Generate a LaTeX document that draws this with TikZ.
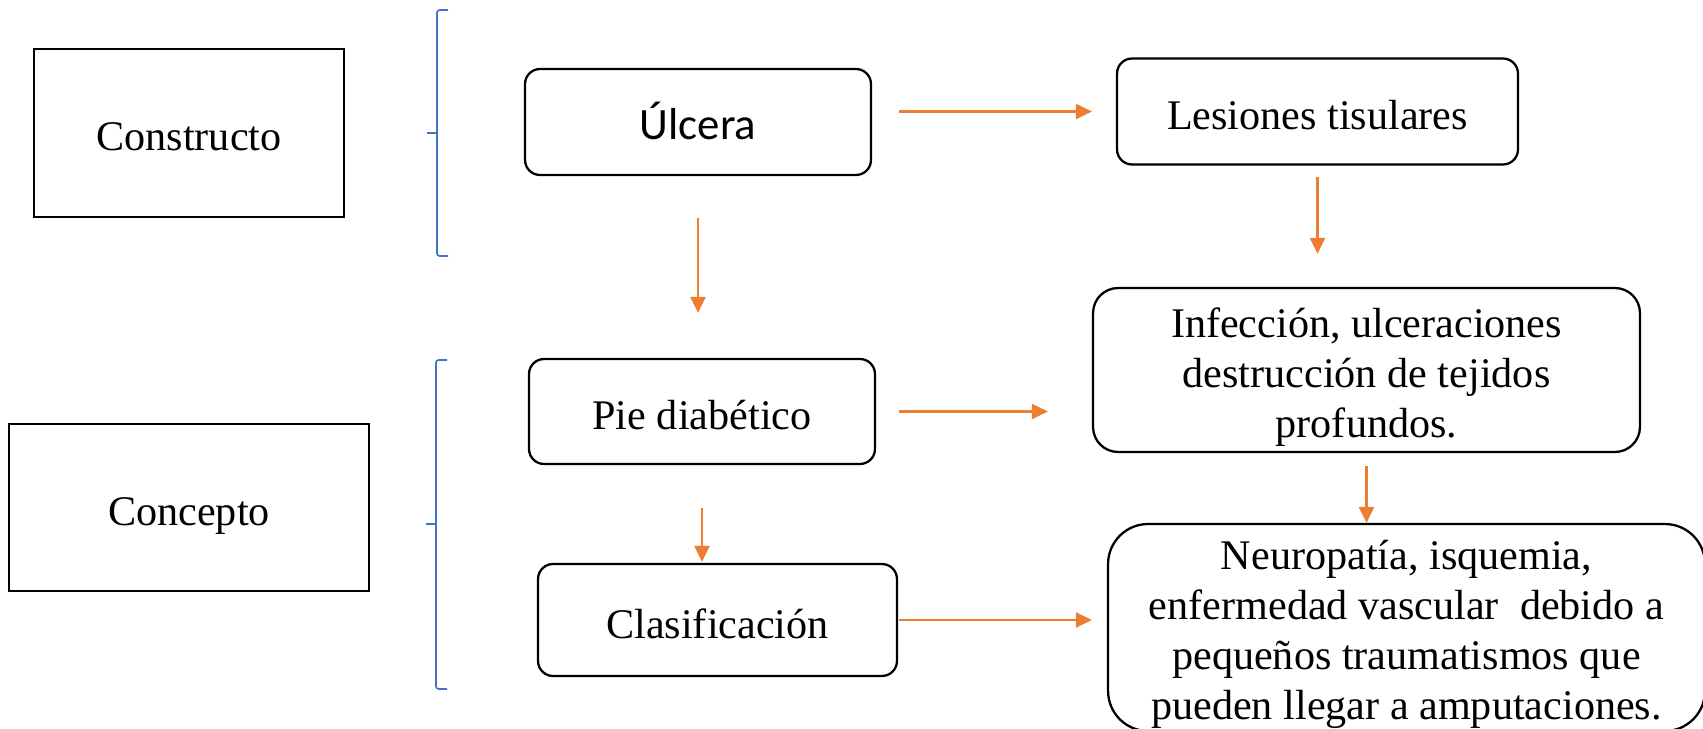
\documentclass[tikz,border=0pt]{standalone}
\usepackage{fontspec}
\setmainfont{Liberation Serif}
\newfontfamily\calibri{Carlito}
\usetikzlibrary{arrows.meta}
\definecolor{naranja}{HTML}{ED7D31}
\definecolor{azul}{HTML}{4472C4}
\def\llave(#1,#2,#3,#4){\draw[llave] ([xshift=0.22cm]#1,#2) -- (#1,#2) -- (#1,#4) -- ([xshift=0.22cm]#1,#4); \draw[llave] (#1,#3) -- ([xshift=-0.2cm]#1,#3);}

\begin{document}
\begin{tikzpicture}[x=0.02cm, y=-0.02cm,
	every node/.style={font=\fontsize{24}{28.45}\selectfont},
	caja/.style={draw, line width=1.5pt, inner sep=0pt, align=center, text height=0.72cm, text depth=0pt},
	redonda/.style={draw, line width=1.3pt, rounded corners=0.3cm, inner sep=0pt, align=center, text height=0.72cm, text depth=0pt},
	flecha/.style={draw=naranja, line width=1.3pt, -{Triangle[length=0.32cm, width=0.3cm]}},
	llave/.style={draw=azul, line width=0.9pt, rounded corners=1.5pt}]
		%%%%% START %%%%%
		\useasboundingbox (0, 0) rectangle (1703, 729);
		
		\node[caja, minimum width=6.2cm, minimum height=3.36cm] (constructo) at (189, 133) {Constructo};
		\node[caja, minimum width=7.2cm, minimum height=3.34cm] (concepto) at (189, 507.5) {Concepto};
		
		\llave(437,10,133,256)
		\llave(436,360,524,689)
		
		\node[redonda, minimum width=6.92cm, minimum height=2.12cm, font=\calibri\fontsize{25.5}{30}\selectfont] (ulcera) at (698, 122) {Úlcera};
		\node[redonda, minimum width=8.02cm, minimum height=2.12cm] (lesiones) at (1317.5, 111.5) {Lesiones tisulares};
		\node[redonda, minimum width=6.92cm, minimum height=2.1cm] (pie) at (702, 411.5) {Pie diabético};
		\node[redonda, minimum width=7.18cm, minimum height=2.24cm] (clasif) at (717.5, 620) {Clasificación};
		\node[redonda, rounded corners=0.5cm, minimum width=10.94cm, minimum height=3.28cm, text height=2.7cm] (infeccion) at (1366.5, 370) {Infección, ulceraciones\\destrucción de tejidos\\profundos.};
		\node[redonda, rounded corners=0.8cm, minimum width=11.94cm, minimum height=4.14cm, text height=3.68cm] (neuro) at (1406.5, 627.5) {Neuropatía, isquemia,\\enfermedad vascular~ debido a\\pequeños traumatismos que\\pueden llegar a amputaciones.};
		
		\draw[flecha, shorten <=0.54cm, shorten >=0.48cm] (ulcera.east |- lesiones.west) -- (lesiones.west);
		\draw[flecha, shorten <=0.22cm, shorten >=0.66cm] (lesiones.south) -- (lesiones.south |- infeccion.north);
		\draw[flecha, shorten <=0.84cm, shorten >=0.9cm] (ulcera.south) -- (ulcera.south |- pie.north);
		\draw[flecha, shorten <=0.46cm, shorten >=0.88cm] (pie.east) -- (pie.east -| infeccion.west);
		\draw[flecha, shorten <=0.86cm, shorten >=0.02cm] (pie.south) -- (pie.south |- clasif.north);
		\draw[flecha, shorten <=0.26cm] (infeccion.south) -- (neuro.north -| infeccion.south);
		\draw[flecha, shorten <=0.02cm, shorten >=0.3cm] (clasif.east) -- (clasif.east -| neuro.west);
		
		%%%%% END %%%%%
\end{tikzpicture}
\end{document}
